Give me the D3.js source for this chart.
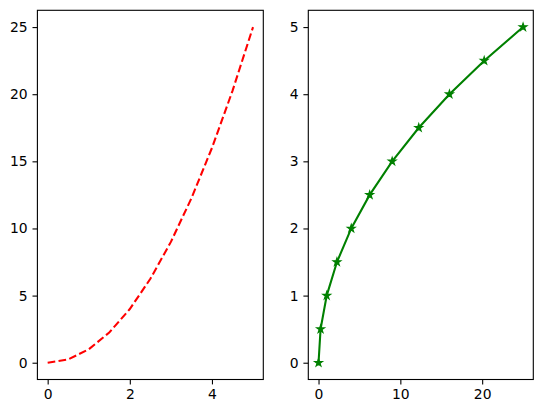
<!DOCTYPE html>
<html lang="en">
<head>
<meta charset="UTF-8">
<title>Two panels</title>
<script src="https://d3js.org/d3.v7.min.js"></script>
<style>
  body { margin: 0; background: #fff; }
  svg { display: block; }
  text { font-family: "DejaVu Sans", sans-serif; font-size: 13.9px; fill: #000; }
</style>
</head>
<body>
<svg width="543" height="413"></svg>
<script>
  // values
  const xs = [0, 0.5, 1, 1.5, 2, 2.5, 3, 3.5, 4, 4.5, 5];
  const squares = [0, 0.25, 1, 2.25, 4, 6.25, 9, 12.25, 16, 20.25, 25];
  const leftXTicks = [0, 2, 4];
  const leftYTicks = [0, 5, 10, 15, 20, 25];
  const rightXTicks = [0, 10, 20];
  const rightYTicks = [0, 1, 2, 3, 4, 5];

  const svg = d3.select("svg");
  const plotTop = 10.3, plotBottom = 379.5;
  const fmt = d3.format("d");

  function panel(left, right, xDom, yDom, xTicks, yTicks) {
    const x = d3.scaleLinear().domain(xDom).range([left, right]);
    const y = d3.scaleLinear().domain(yDom).range([plotBottom, plotTop]);
    const g = svg.append("g");

    g.append("g")
      .attr("transform", `translate(0,${plotBottom})`)
      .call(d3.axisBottom(x).tickValues(xTicks).tickFormat(fmt)
        .tickSizeOuter(0).tickSize(4.9).tickPadding(4.9));
    g.append("g")
      .attr("transform", `translate(${left},0)`)
      .call(d3.axisLeft(y).tickValues(yTicks).tickFormat(fmt)
        .tickSizeOuter(0).tickSize(4.9).tickPadding(4.9));
    g.selectAll(".domain").remove();
    g.selectAll(".tick line").attr("stroke", "#000").attr("stroke-width", 1.1);
    g.selectAll(".tick text").attr("fill", "#000").style("font-size", "13.9px")
      .style("font-family", "DejaVu Sans, sans-serif");

    return { g, x, y, frame: () => g.append("rect")
      .attr("x", left).attr("y", plotTop)
      .attr("width", right - left).attr("height", plotBottom - plotTop)
      .attr("fill", "none").attr("stroke", "#000").attr("stroke-width", 1.1) };
  }

  // left: red dashed
  const L = panel(37.4, 263.3, [-0.25, 5.25], [-1.25, 26.25], leftXTicks, leftYTicks);
  L.g.append("path")
    .datum(xs.map((v, i) => [v, squares[i]]))
    .attr("fill", "none")
    .attr("stroke", "#ff0000")
    .attr("stroke-width", 2.08)
    .attr("stroke-dasharray", "7.7,3.3")
    .attr("d", d3.line().x(d => L.x(d[0])).y(d => L.y(d[1])));
  L.frame();

  // right: green with stars
  const R = panel(308.3, 533.3, [-1.25, 26.25], [-0.25, 5.25], rightXTicks, rightYTicks);
  const pts = squares.map((v, i) => [v, xs[i]]);
  R.g.append("path")
    .datum(pts)
    .attr("fill", "none")
    .attr("stroke", "#008000")
    .attr("stroke-width", 2.08)
    .attr("d", d3.line().x(d => R.x(d[0])).y(d => R.y(d[1])));
  R.g.selectAll("path.star")
    .data(pts)
    .enter().append("path")
    .attr("class", "star")
    .attr("transform", d => `translate(${R.x(d[0])},${R.y(d[1])})`)
    .attr("d", d3.symbol().type(d3.symbolStar).size(18))
    .attr("fill", "#008000")
    .attr("stroke", "#008000")
    .attr("stroke-width", 1.2);
  R.frame();
</script>
</body>
</html>
